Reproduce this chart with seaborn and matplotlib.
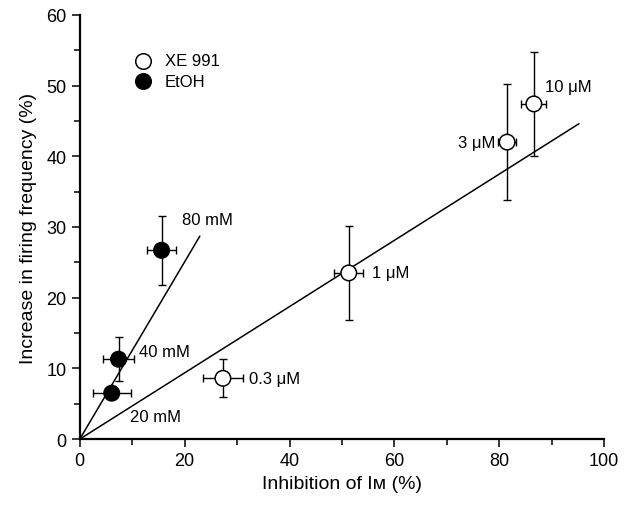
import numpy as np
import pandas as pd
import matplotlib
matplotlib.use("Agg")
import matplotlib.pyplot as plt
import seaborn as sns

# XE 991 concentrations
xe_labels = ["0.3 \u03bcM", "1 \u03bcM", "3 \u03bcM", "10 \u03bcM"]
xe_x = [27.3, 51.3, 81.5, 86.6]
xe_y = [8.6, 23.5, 42.0, 47.4]
xe_xerr = [3.8, 2.8, 1.7, 2.4]
xe_yerr = [2.7, 6.7, 8.2, 7.4]

# EtOH concentrations
et_labels = ["20 mM", "40 mM", "80 mM"]
et_x = [6.1, 7.4, 15.6]
et_y = [6.5, 11.3, 26.7]
et_xerr = [3.6, 3.0, 2.8]
et_yerr = [0.0, 3.1, 4.9]

# regression lines through origin
xe_fit_x = [0, 95.2]
xe_fit_y = [0, 44.6]
et_fit_x = [0, 22.9]
et_fit_y = [0, 28.7]

sns.set_style("ticks")
plt.rcParams["font.family"] = ["Liberation Sans", "DejaVu Sans"]
plt.rcParams["text.color"] = "black"
plt.rcParams["axes.labelcolor"] = "black"

df = pd.DataFrame({
    "x": xe_x + et_x,
    "y": xe_y + et_y,
    "group": ["XE 991"] * len(xe_x) + ["EtOH"] * len(et_x),
})

fig = plt.figure(figsize=(6.28, 5.10), dpi=100)
ax = fig.add_axes([0.127, 0.137, 0.835, 0.832])

ax.plot(xe_fit_x, xe_fit_y, color="black", lw=1.1, zorder=1)
ax.plot(et_fit_x, et_fit_y, color="black", lw=1.1, zorder=1)

ax.errorbar(xe_x, xe_y, xerr=xe_xerr, yerr=xe_yerr, fmt="none", ecolor="black",
            elinewidth=1, capsize=3, capthick=1, zorder=2)
ax.errorbar(et_x, et_y, xerr=et_xerr, yerr=et_yerr, fmt="none", ecolor="black",
            elinewidth=1, capsize=3, capthick=1, zorder=2)

sns.scatterplot(data=df, x="x", y="y", hue="group", style="group",
                palette={"XE 991": "white", "EtOH": "black"},
                markers={"XE 991": "o", "EtOH": "o"},
                s=125, edgecolor="black", linewidth=1.1, ax=ax, zorder=3,
                legend=False)

# concentration labels
fs = 12
ax.text(xe_x[0] + 5.0, xe_y[0], xe_labels[0], fontsize=fs, va="center", ha="left")
ax.text(xe_x[1] + 4.5, xe_y[1], xe_labels[1], fontsize=fs, va="center", ha="left")
ax.text(xe_x[2] - 2.3, xe_y[2], xe_labels[2], fontsize=fs, va="center", ha="right")
ax.text(xe_x[3] + 2.2, xe_y[3] + 2.4, xe_labels[3], fontsize=fs, va="center", ha="left")
ax.text(9.5, 3.2, et_labels[0], fontsize=fs, va="center", ha="left")
ax.text(11.3, 12.4, et_labels[1], fontsize=fs, va="center", ha="left")
ax.text(19.5, 31.0, et_labels[2], fontsize=fs, va="center", ha="left")

# legend
ax.scatter([12.0], [53.5], s=125, facecolor="white", edgecolor="black", linewidth=1.1)
ax.scatter([12.0], [50.6], s=125, facecolor="black", edgecolor="black", linewidth=1.1)
ax.text(16.2, 53.5, "XE 991", fontsize=fs, va="center")
ax.text(16.2, 50.6, "EtOH", fontsize=fs, va="center")

ax.set_xlim(0, 100)
ax.set_ylim(0, 60)
ax.set_xticks(np.arange(0, 101, 20))
ax.set_xticks(np.arange(0, 101, 10), minor=True)
ax.set_yticks(np.arange(0, 61, 10))
ax.set_yticks(np.arange(0, 61, 5), minor=True)
ax.tick_params(axis="both", which="major", length=6, width=1.1, labelsize=13, colors="black")
ax.tick_params(axis="both", which="minor", length=4, width=1.1, colors="black")
for s in ["left", "bottom"]:
    ax.spines[s].set_linewidth(1.6)
    ax.spines[s].set_color("black")
sns.despine(ax=ax)

ax.set_xlabel("Inhibition of I\u1d0d (%)", fontsize=14, labelpad=4)
ax.set_ylabel("Increase in firing frequency (%)", fontsize=14, labelpad=7)

fig.savefig("out.png", dpi=100)
